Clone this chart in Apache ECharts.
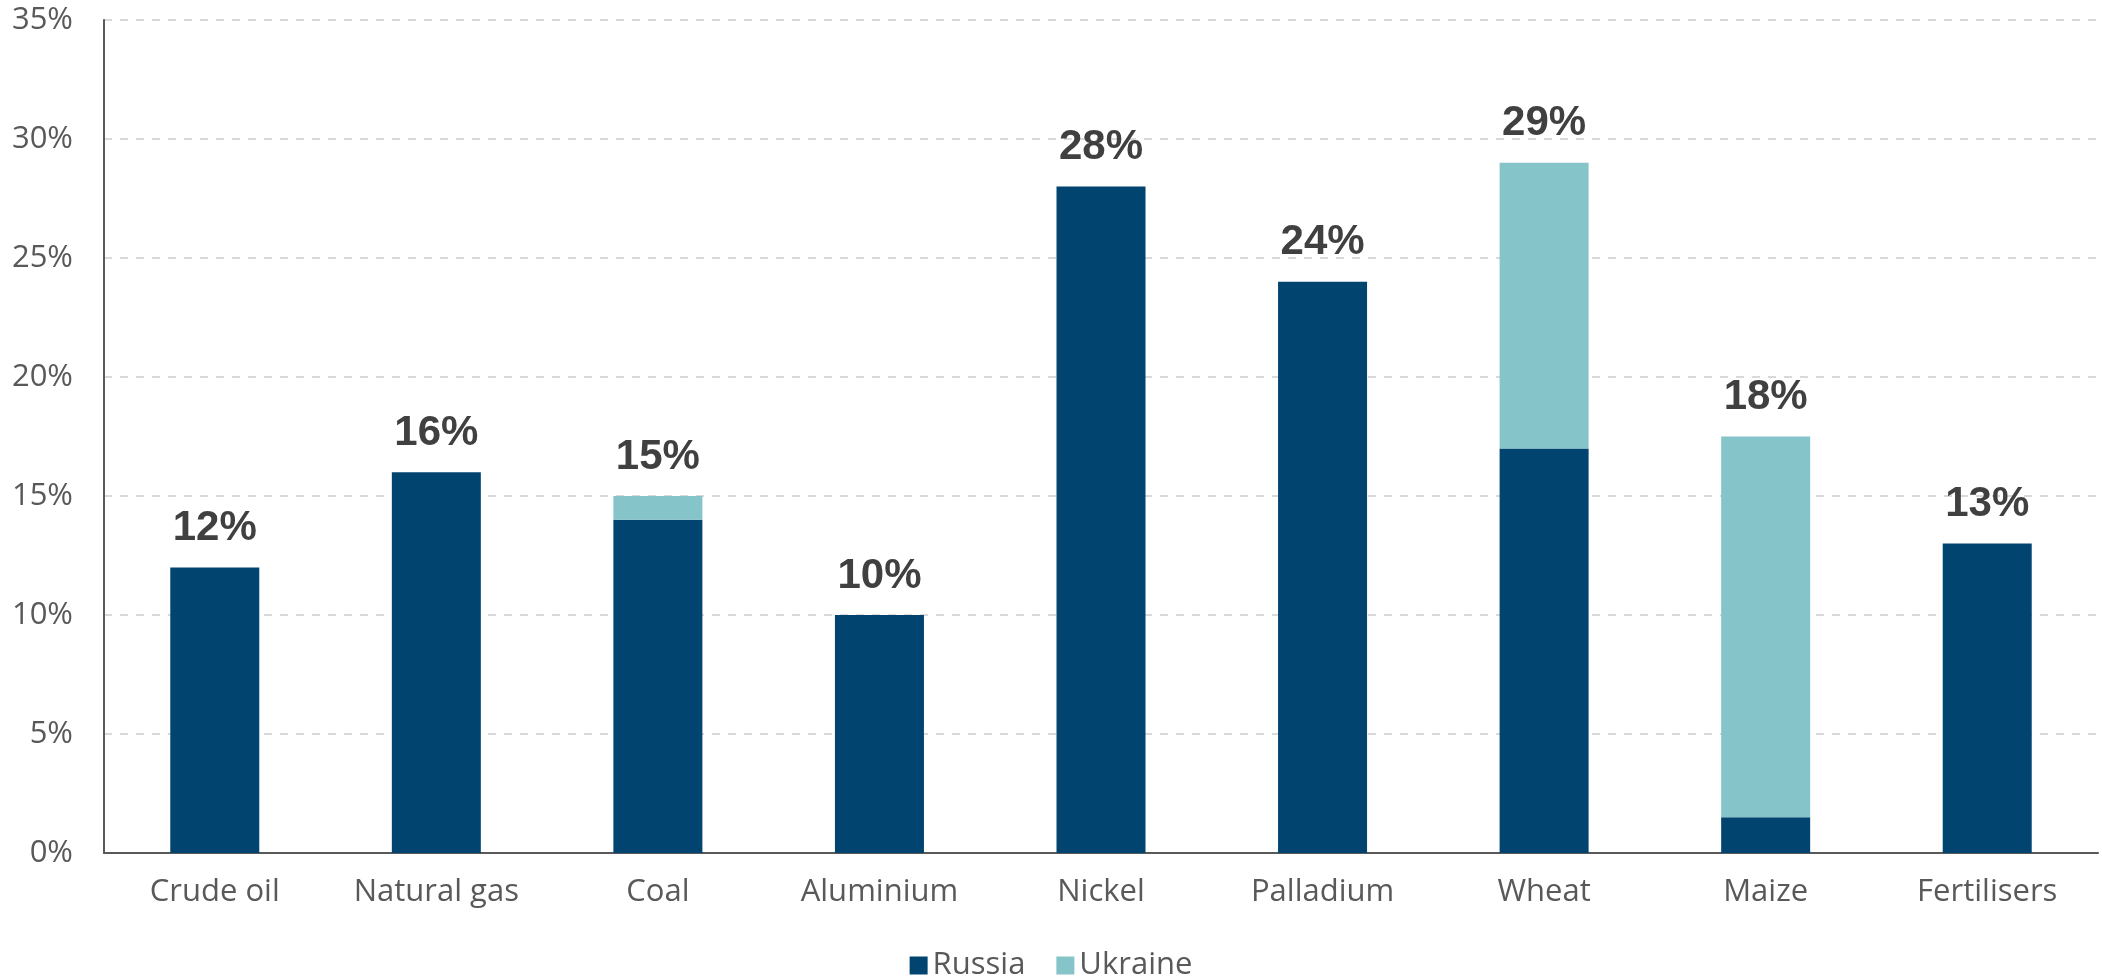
<!DOCTYPE html>
<html>
<head>
<meta charset="utf-8">
<script src="https://cdn.jsdelivr.net/npm/echarts@6/dist/echarts.min.js"></script>
<style>
  html, body { margin: 0; padding: 0; background: #fff; }
  #main { width: 2102px; height: 980px; }
</style>
</head>
<body>
<div id="main"></div>
<script>
// categories and shares of global exports (%)
var categories = ['Crude oil', 'Natural gas', 'Coal', 'Aluminium', 'Nickel', 'Palladium', 'Wheat', 'Maize', 'Fertilisers'];
var russia  = [12, 16, 14, 10, 28, 24, 17, 1.5, 13];
var ukraine = [0, 0, 1, 0, 0, 0, 12, 16, 0];
var totalLabels = ['12%', '16%', '15%', '10%', '28%', '24%', '29%', '18%', '13%'];
var yTicks = [0, 5, 10, 15, 20, 25, 30, 35];

var axisFont = '"Open Sans", Lato, sans-serif';

var chart = echarts.init(document.getElementById('main'));

var option = {
  backgroundColor: '#ffffff',
  animation: false,
  grid: { left: 104, right: 4, top: 20, bottom: 127, containLabel: false },
  legend: {
    top: 945,
    left: 'center',
    icon: 'rect',
    itemWidth: 18,
    itemHeight: 18,
    itemGap: 31,
    textStyle: { fontFamily: axisFont, fontSize: 31, color: '#595959' },
    data: ['Russia', 'Ukraine']
  },
  xAxis: {
    type: 'category',
    data: categories,
    axisLine: { show: true, lineStyle: { color: '#595959', width: 2 } },
    axisTick: { show: false },
    axisLabel: { fontFamily: axisFont, fontSize: 31, color: '#595959', margin: 24 }
  },
  yAxis: {
    type: 'value',
    min: yTicks[0],
    max: yTicks[yTicks.length - 1],
    interval: 5,
    axisLine: { show: true, lineStyle: { color: '#595959', width: 2 } },
    axisTick: { show: false },
    axisLabel: {
      fontFamily: axisFont, fontSize: 31, color: '#595959', margin: 31,
      formatter: function (v) { return v + '%'; }
    },
    splitLine: { show: true, lineStyle: { color: '#d9d9d9', width: 2, type: [8, 8] } }
  },
  series: [
    {
      name: 'Russia',
      type: 'bar',
      stack: 'total',
      barWidth: 89,
      itemStyle: { color: '#00446f' },
      data: russia
    },
    {
      name: 'Ukraine',
      type: 'bar',
      stack: 'total',
      barWidth: 89,
      itemStyle: { color: '#85c4c9' },
      label: {
        show: true,
        position: 'top',
        distance: 18,
        fontFamily: 'Liberation Sans, Arial, sans-serif',
        fontWeight: 'bold',
        fontSize: 42,
        color: '#404040',
        formatter: function (p) { return totalLabels[p.dataIndex]; }
      },
      data: ukraine
    }
  ]
};

chart.setOption(option);
</script>
</body>
</html>
